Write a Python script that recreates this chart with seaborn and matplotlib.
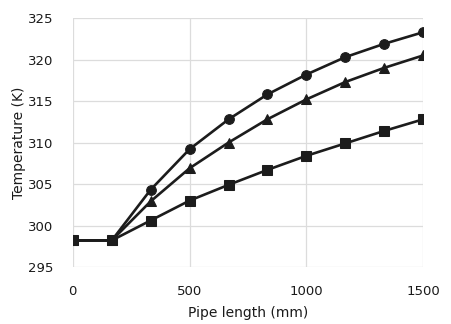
import matplotlib
matplotlib.use("Agg")
import matplotlib.pyplot as plt
import seaborn as sns
import pandas as pd

pipe_length = [0, 167, 333, 500, 667, 833, 1000, 1167, 1333, 1500]
temp_circle = [298.2, 298.2, 304.3, 309.2, 312.8, 315.8, 318.2, 320.3, 321.9, 323.3]
temp_triangle = [298.2, 298.2, 302.9, 306.9, 310.0, 312.8, 315.2, 317.3, 319.0, 320.5]
temp_square = [298.2, 298.2, 300.6, 303.0, 304.9, 306.7, 308.4, 309.9, 311.4, 312.8]

sns.set_theme(style="whitegrid")
plt.rcParams['font.family'] = ['DejaVu Sans']

fig = plt.figure(figsize=(4.52, 3.24), dpi=100)
ax = fig.add_axes([0.161, 0.176, 0.775, 0.768])

series = [(temp_circle, 'o', 7), (temp_triangle, '^', 7.5), (temp_square, 's', 7)]
for vals, mk, ms in series:
    df = pd.DataFrame({'x': pipe_length, 'y': vals})
    sns.lineplot(data=df, x='x', y='y', ax=ax, color='#1c1c1c', linewidth=1.9,
                 marker=mk, markersize=ms, markeredgecolor='#1c1c1c')

ax.set_xlim(0, 1500)
ax.set_ylim(295, 325)
ax.set_xticks([0, 500, 1000, 1500])
ax.set_yticks(range(295, 326, 5))
ax.grid(True, color='#dcdcdc', linewidth=0.9)
for s in ax.spines.values():
    s.set_visible(False)
ax.tick_params(axis='x', length=0, labelsize=9.5, colors='#1a1a1a', pad=13)
ax.tick_params(axis='y', length=0, labelsize=9.5, colors='#1a1a1a', pad=14)
ax.set_xlabel("Pipe length (mm)", fontsize=10, color='#1a1a1a', labelpad=6)
ax.set_ylabel("Temperature (K)", fontsize=10, color='#1a1a1a', labelpad=1)

fig.savefig("out.png", dpi=100)
